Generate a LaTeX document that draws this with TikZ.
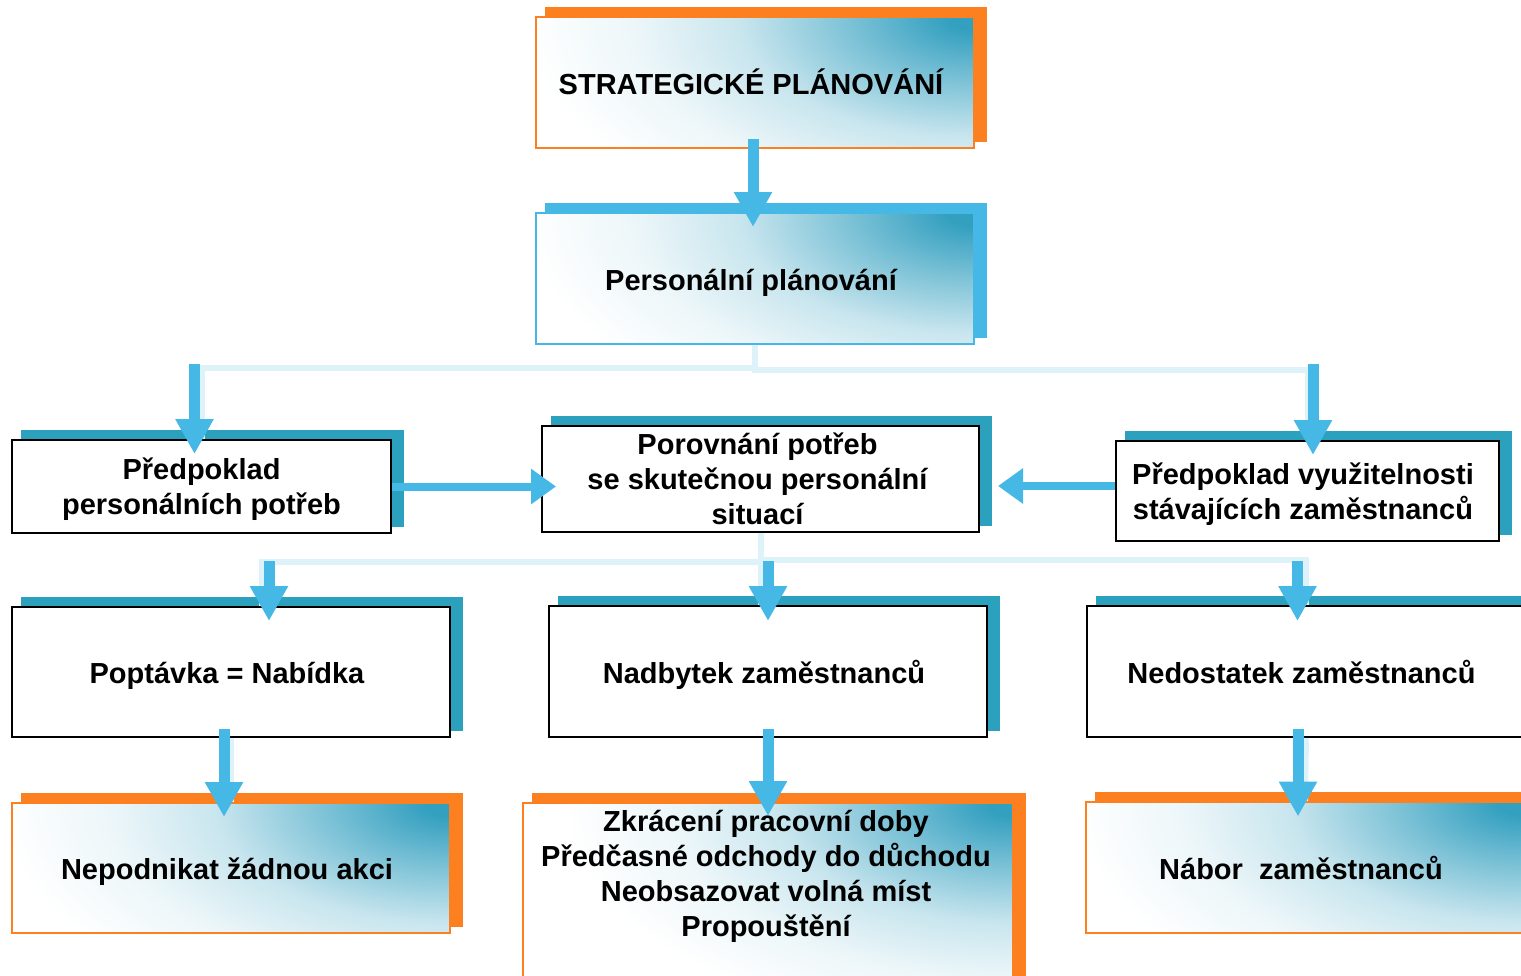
\documentclass[tikz,border=0pt]{standalone}
\usepackage{fontspec}
\setmainfont{Liberation Sans}
\usetikzlibrary{arrows.meta,calc,backgrounds}

\definecolor{orng}{RGB}{253,128,32}
\definecolor{skyb}{RGB}{69,184,230}
\definecolor{tealsh}{RGB}{44,161,190}
\definecolor{glowteal}{RGB}{52,160,192}
\definecolor{paleline}{RGB}{222,243,249}

% teal glow spreading from the upper right corner of a box
\pgfdeclareradialshading{cornerglow}{\pgfpoint{0bp}{0bp}}{color(0bp)=(glowteal); color(0.75bp)=(glowteal); color(3.5bp)=(glowteal!64!white); color(6.5bp)=(glowteal!27!white); color(9.5bp)=(glowteal!9!white); color(12.5bp)=(white); color(50bp)=(white)}

\tikzset{
  txt/.style={font=\fontsize{29pt}{35pt}\selectfont\bfseries, align=center, text=black},
  oneline/.style={text height=28pt, text depth=5pt},
  boxbase/.style={rectangle, inner sep=0pt, txt, line width=2pt},
  plainbox/.style={boxbase, draw=black, fill=white},
  glowbox/.style={boxbase, draw=#1, fill=white,
    path picture={\shade[shading=cornerglow]
      ($(path picture bounding box.north east)+(-900pt,-460pt)$) rectangle
      ($(path picture bounding box.north east)+(900pt,460pt)$);}},
  pale/.style={draw=paleline, line width=6pt},
  flow/.style={draw=skyb, line width=11pt, -{Triangle[width=36pt,length=35pt]}},
  sideflow/.style={draw=skyb, line width=8pt, -{Triangle[width=34pt,length=25pt]}},
}

% solid offset shadow behind a box
\newcommand\castshadow[2]{\fill[#2] ($(#1.south west)+(10,-7)$) rectangle ($(#1.north east)+(12,-9)$);}
% a line whose descenders do not count for centring
\newcommand\nodepth[1]{\raisebox{0pt}[\height][0pt]{#1}}

\begin{document}
\begin{tikzpicture}[x=1pt,y=-1pt]
\useasboundingbox (0,0) rectangle (1521,975);

% boxes
\node[glowbox=orng, oneline, minimum width=438pt, minimum height=131pt] (strat) at (755,82.5) {STRATEGICKÉ PLÁNOVÁNÍ\kern8pt};
\node[glowbox=skyb, oneline, minimum width=438pt, minimum height=131pt] (pers) at (755,278.5) {Personální plánování\kern8pt};
\node[plainbox, minimum width=379pt, minimum height=93pt] (need) at (201.5,486.5) {Předpoklad\\\nodepth{personálních potřeb}};
\node[plainbox, minimum width=437pt, minimum height=106pt] (cmp) at (760.5,479) {Porovnání potřeb\kern6pt\\se skutečnou personální\kern6pt\\situací\kern6pt};
\node[plainbox, minimum width=383pt, minimum height=100pt] (avail) at (1307.5,491) {Předpoklad využitelnosti\kern9pt\\\nodepth{stávajících zaměstnanců\kern9pt}};
\node[plainbox, oneline, minimum width=438pt, minimum height=130pt] (bal) at (231,672) {Poptávka = Nabídka\kern8pt};
\node[plainbox, oneline, minimum width=438pt, minimum height=131pt] (surplus) at (768,671.5) {Nadbytek zaměstnanců\kern8pt};
\node[plainbox, oneline, minimum width=438pt, minimum height=131pt] (short) at (1306,671.5) {Nedostatek zaměstnanců\kern9pt};
\node[glowbox=orng, oneline, minimum width=438pt, minimum height=130pt] (none) at (231,868) {Nepodnikat žádnou akci\kern8pt};
\node[glowbox=orng, minimum width=490pt, minimum height=200pt] (cut) at (768,903) {};
\node[txt] (cuttext) at (766,876) {Zkrácení pracovní doby\\Předčasné odchody do důchodu\\Neobsazovat volná míst\\Propouštění};
\node[glowbox=orng, oneline, minimum width=438pt, minimum height=131pt] (hire) at (1305,867.5) {Nábor\ \ zaměstnanců\kern8pt};

% shadows
\begin{scope}[on background layer]
  \castshadow{strat}{orng}
  \castshadow{pers}{skyb}
  \castshadow{need}{tealsh}
  \castshadow{cmp}{tealsh}
  \castshadow{avail}{tealsh}
  \castshadow{bal}{tealsh}
  \castshadow{surplus}{tealsh}
  \castshadow{short}{tealsh}
  \castshadow{none}{orng}
  \castshadow{cut}{orng}
  \castshadow{hire}{orng}
\end{scope}

% pale connector lines
\draw[pale] (strat.south) -- (pers.north);
\draw[pale] (pers.south) -- ++(0,23) -| (need.north);
\draw[pale] (pers.south) -- ++(0,25) -| (avail.north);
\draw[pale] (cmp.south) -- ++(0,29) -| ($(bal.north)+(31,0)$);
\draw[pale] (cmp.south) -- (cmp.south |- surplus.north);
\draw[pale] (cmp.south) -- ++(0,27) -| (short.north);
\draw[pale] (bal.south) -- (none.north);
\draw[pale] (surplus.south) -- (cut.north);
\draw[pale] (short.south) -- (hire.north);

% blue flow arrows
\draw[flow] ($(strat.south)+(-2,-10)$) -- ($(pers.north)+(-2,15)$);
\draw[flow] ($(need.north)+(-7,-75)$) -- ($(need.north)+(-7,15)$);
\draw[flow] ($(avail.north)+(5.5,-76)$) -- ($(avail.north)+(5.5,15)$);
\draw[sideflow] (need.east) -- ($(cmp.west)+(15,7.5)$);
\draw[sideflow] ($(avail.west)+(0,-5)$) -- ($(cmp.east)+(18,7)$);
\draw[flow] ($(bal.north)+(38,-45)$) -- ($(bal.north)+(38,15)$);
\draw[flow] ($(surplus.north)+(0,-44)$) -- ($(surplus.north)+(0,16)$);
\draw[flow] ($(short.north)+(-8.5,-44)$) -- ($(short.north)+(-8.5,16)$);
\draw[flow] ($(bal.south)+(-7,-9)$) -- ($(none.north)+(-7,15)$);
\draw[flow] ($(surplus.south)+(0,-9)$) -- ($(cut.north)+(0,14)$);
\draw[flow] ($(short.south)+(-8,-9)$) -- ($(hire.north)+(-7,15.5)$);
\end{tikzpicture}
\end{document}
